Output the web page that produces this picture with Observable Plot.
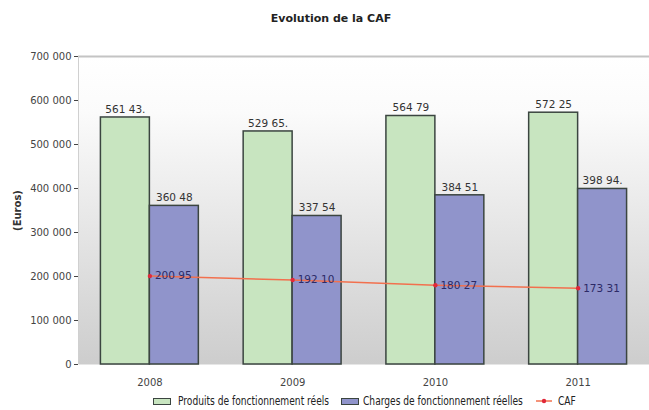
<!DOCTYPE html>
<html>
<head>
<meta charset="utf-8">
<script src="https://cdn.jsdelivr.net/npm/d3@7"></script>
<script src="https://cdn.jsdelivr.net/npm/@observablehq/plot@0.6"></script>
<style>
  body { margin: 0; background: #fff; width: 649px; height: 410px; overflow: hidden; }
  #title { height: 34px; line-height: 37px; text-align: center; padding-left: 13px; box-sizing: border-box;
           font-family: "DejaVu Sans", sans-serif; font-size: 11px; font-weight: bold; color: #222; }
  #chart svg { display: block; }
  #legend { position: relative; height: 18px; font-family: "DejaVu Sans Condensed", "DejaVu Sans", sans-serif;
            font-size: 12.5px; color: #222; }
  .item { position: absolute; top: 0; height: 18px; line-height: 18px; white-space: nowrap;
          transform: scaleX(0.81); transform-origin: 0 50%; }
  .sw { position: absolute; top: 6px; width: 16px; height: 5px; border: 1.5px solid #3b4540; }
</style>
</head>
<body>
<div id="title">Evolution de la CAF</div>
<div id="chart"></div>
<div id="legend"></div>
<script>
const years = [2008, 2009, 2010, 2011];
const produits = [561430, 529650, 564790, 572250];
const charges = [360480, 337540, 384510, 398940];
const caf = [200950, 192100, 180270, 173310];
const produitsLabels = ["561 43.", "529 65.", "564 79", "572 25"];
const chargesLabels = ["360 48", "337 54", "384 51", "398 94."];
const cafLabels = ["200 95", "192 10", "180 27", "173 31"];
const yTicks = [0, 100000, 200000, 300000, 400000, 500000, 600000, 700000];
const seriesNames = ["Produits de fonctionnement réels", "Charges de fonctionnement réelles", "CAF"];
const yTitle = "(Euros)";

const greenFill = "#c8e5c0", blueFill = "#9094cb", barStroke = "#3b4540";
const lineColor = "#f2704e", dotColor = "#e0283a";
const bw = 0.343; // bar width in year units (style)

const P = years.map((year, i) => ({year, value: produits[i], label: produitsLabels[i]}));
const C = years.map((year, i) => ({year, value: charges[i], label: chargesLabels[i]}));
const F = years.map((year, i) => ({year, value: caf[i], label: cafLabels[i]}));

const fmt = d => d3.format(",")(d).replace(/,/g, " ");

const svg = Plot.plot({
  width: 649,
  height: 358,
  marginLeft: 78,
  marginRight: 0,
  marginTop: 22,
  marginBottom: 28,
  style: {fontFamily: "DejaVu Sans, sans-serif", fontSize: "10px", color: "#444", background: "transparent"},
  x: {domain: [2007.5, 2011.5], ticks: years, tickFormat: d => String(d), tickSize: 0, tickPadding: 14, label: null},
  y: {domain: [0, 700000], ticks: yTicks, tickFormat: fmt, tickSize: 4, tickPadding: 3,
      label: yTitle, labelAnchor: "center", labelOffset: 65, labelArrow: "none"},
  marks: [
    Plot.frame({fill: "url(#bgGrad)", stroke: null}),
    Plot.ruleY([700000], {stroke: "#c4c4c4", strokeWidth: 2}),
    Plot.ruleX([2007.5], {stroke: "#d0d0d0", strokeWidth: 1}),
    Plot.rectY(P, {x1: d => d.year - bw, x2: d => d.year, y: "value", fill: greenFill, stroke: barStroke, strokeWidth: 1.5}),
    Plot.rectY(C, {x1: d => d.year, x2: d => d.year + bw, y: "value", fill: blueFill, stroke: barStroke, strokeWidth: 1.5}),
    Plot.text(P, {x: d => d.year - bw / 2, y: "value", text: "label", dy: -8, fontSize: 10.5, fill: "#333"}),
    Plot.text(C, {x: d => d.year + bw / 2, y: "value", text: "label", dy: -8, fontSize: 10.5, fill: "#333"}),
    Plot.line(F, {x: "year", y: "value", stroke: lineColor, strokeWidth: 1.5}),
    Plot.dot(F, {x: "year", y: "value", r: 2.2, fill: dotColor}),
    Plot.text(F, {x: "year", y: "value", text: "label", textAnchor: "start", dx: 5, fontSize: 10.5, fill: "#2c2a66"})
  ]
});

const defs = d3.select(svg).insert("defs", ":first-child");
const g = defs.append("linearGradient").attr("id", "bgGrad").attr("x1", 0).attr("y1", 0).attr("x2", 0).attr("y2", 1);
g.append("stop").attr("offset", "0%").attr("stop-color", "#ffffff");
g.append("stop").attr("offset", "18%").attr("stop-color", "#fbfbfb");
g.append("stop").attr("offset", "100%").attr("stop-color", "#cdcdcd");

// make sure the y-axis title shows without an arrow, in bold
d3.select(svg).selectAll("text").each(function() {
  const t = d3.select(this);
  if (this.textContent.includes(yTitle) && this.textContent !== yTitle && this.childElementCount === 0) {
    t.text(yTitle);
  }
  if (this.textContent.includes(yTitle)) t.attr("font-weight", "bold").attr("fill", "#333");
});
document.getElementById("chart").appendChild(svg);

// legend
const legend = d3.select("#legend");
const items = [
  {name: seriesNames[0], kind: "rect", fill: greenFill, sx: 153, tx: 178},
  {name: seriesNames[1], kind: "rect", fill: blueFill, sx: 341, tx: 363},
  {name: seriesNames[2], kind: "line", sx: 536, tx: 558}
];
for (const it of items) {
  if (it.kind === "rect") {
    legend.append("div").attr("class", "sw").style("left", it.sx + "px").style("background", it.fill);
  } else {
    const s = legend.append("svg").attr("width", 16).attr("height", 18)
      .style("position", "absolute").style("left", it.sx + "px").style("top", "0px");
    s.append("line").attr("x1", 0).attr("x2", 16).attr("y1", 9).attr("y2", 9).attr("stroke", lineColor).attr("stroke-width", 1.5);
    s.append("circle").attr("cx", 8).attr("cy", 9).attr("r", 2.2).attr("fill", dotColor);
  }
  legend.append("div").attr("class", "item").style("left", it.tx + "px").text(it.name);
}
</script>
</body>
</html>
